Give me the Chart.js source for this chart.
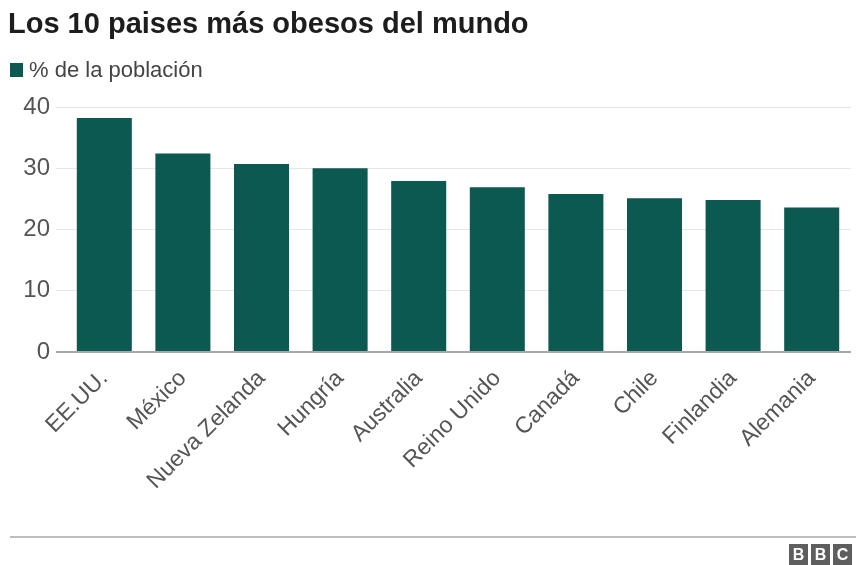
<!DOCTYPE html>
<html>
<head>
<meta charset="utf-8">
<script src="https://cdn.jsdelivr.net/npm/chart.js@4/dist/chart.umd.min.js"></script>
<style>
  html, body { margin: 0; padding: 0; background: #fff; }
  body { width: 856px; height: 565px; position: relative; overflow: hidden; font-family: "Liberation Sans", Arial, Helvetica, sans-serif; }
  #title { position: absolute; left: 8px; top: 7px; font-size: 29px; font-weight: bold; color: #1d1d1d; white-space: nowrap; }
  #legend { position: absolute; left: 10px; top: 57px; font-size: 22px; color: #444; white-space: nowrap; display: flex; align-items: center; }
  #legend .sw { width: 13px; height: 14px; margin-right: 6px; }
  #wrap { position: absolute; left: 0; top: 0; width: 856px; height: 565px; }
  #rule { position: absolute; left: 10px; right: 0; top: 536px; height: 2px; background: #bdbdbd; }
  #bbc { position: absolute; left: 789px; top: 544px; display: flex; gap: 3px; }
  #bbc span { width: 19px; height: 22px; background: #5e5e5e; color: #fff; font: bold 16px "Liberation Sans", Arial, sans-serif; text-align: center; line-height: 22px; }
</style>
</head>
<body>
<div id="wrap"><canvas id="c" width="856" height="565"></canvas></div>
<div id="title"></div>
<div id="legend"><div class="sw"></div><span id="legtxt"></span></div>
<div id="rule"></div>
<div id="bbc"><span>B</span><span>B</span><span>C</span></div>
<script>
const titleText = "Los 10 paises más obesos del mundo";
const seriesLabel = "% de la población";
const countries = ["EE.UU.", "México", "Nueva Zelanda", "Hungría", "Australia", "Reino Unido", "Canadá", "Chile", "Finlandia", "Alemania"];
const obesity = [38.2, 32.4, 30.7, 30.0, 27.9, 26.9, 25.8, 25.1, 24.8, 23.6];
const yTicks = [0, 10, 20, 30, 40];
const barColor = "#0c5951";

document.getElementById('title').textContent = titleText;
document.getElementById('legtxt').textContent = seriesLabel;
document.querySelector('#legend .sw').style.background = barColor;

const FONT = "'Liberation Sans', Arial, Helvetica, sans-serif";

new Chart(document.getElementById('c'), {
  type: 'bar',
  data: {
    labels: countries,
    datasets: [{
      label: seriesLabel,
      data: obesity,
      backgroundColor: barColor,
      borderWidth: 0,
      categoryPercentage: 1.0,
      barPercentage: 0.7
    }]
  },
  options: {
    responsive: false,
    animation: false,
    devicePixelRatio: 1,
    layout: { padding: { top: 107, left: 0, right: 5, bottom: 0 } },
    plugins: { legend: { display: false }, title: { display: false }, tooltip: { enabled: false } },
    scales: {
      x: {
        afterFit: (s) => { s.height = 213; },
        grid: { display: false, drawTicks: false },
        border: { display: false },
        ticks: {
          autoSkip: false, minRotation: 45, maxRotation: 45, padding: 13,
          color: '#555', font: { family: FONT, size: 23 }
        }
      },
      y: {
        min: 0, max: 40,
        afterFit: (s) => { s.width = 65; },
        afterBuildTicks: (s) => { s.ticks = yTicks.map(v => ({ value: v })); },
        border: { display: false },
        grid: {
          color: (ctx) => ctx.tick && ctx.tick.value === 0 ? '#a8a8a8' : '#e6e6e6',
          lineWidth: (ctx) => ctx.tick && ctx.tick.value === 0 ? 2 : 1,
          drawTicks: true, tickLength: 9
        },
        ticks: { padding: 6, color: '#555', font: { family: FONT, size: 24 } }
      }
    }
  }
});
</script>
</body>
</html>
